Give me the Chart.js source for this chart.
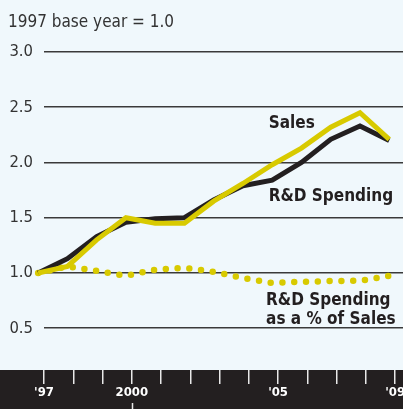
<!DOCTYPE html>
<html>
<head>
<meta charset="utf-8">
<script src="https://cdn.jsdelivr.net/npm/chart.js@4.4.1/dist/chart.umd.min.js"></script>
<style>
  html, body { margin: 0; padding: 0; background: #f0f8fc; }
  canvas { display: block; }
</style>
</head>
<body>
<canvas id="chart" width="403" height="409"></canvas>
<script>
var years = [1997, 1998, 1999, 2000, 2001, 2002, 2003, 2004, 2005, 2006, 2007, 2008, 2009];
var salesValues = [1.00, 1.06, 1.30, 1.50, 1.45, 1.45, 1.65, 1.81, 1.98, 2.13, 2.32, 2.45, 2.21];
var rdValues = [1.00, 1.13, 1.33, 1.46, 1.49, 1.50, 1.66, 1.79, 1.84, 2.00, 2.21, 2.33, 2.20];
var rdShareValues = [1.00, 1.06, 1.02, 0.975, 1.03, 1.047, 1.01, 0.955, 0.91, 0.92, 0.927, 0.93, 0.975];
var yTickValues = [0.5, 1.0, 1.5, 2.0, 2.5, 3.0];
var xTickLabels = ["'97", '', '', '2000', '', '', '', '', "'05", '', '', '', "'09"];
var title = '1997 base year = 1.0';

// series names written on the plot, anchored in data units
var seriesLabels = [
  { lines: ['Sales'], x: 2004.88, y: 2.31 },
  { lines: ['R&D Spending'], x: 2004.88, y: 1.65 },
  { lines: ['R&D Spending', 'as a % of Sales'], x: 2004.79, y: 0.71 }
];

var YELLOW = '#d8ca00';
var INK = '#231f20';
var FONT = '"DejaVu Sans Condensed", "DejaVu Sans", sans-serif';
var tickShift = 0.2;

function points(values) {
  var out = [];
  for (var i = 0; i < years.length; i++) {
    out.push({ x: years[i], y: values[i] });
  }
  return out;
}

var decor = {
  id: 'decor',
  beforeDraw: function(chart) {
    var ctx = chart.ctx;
    var area = chart.chartArea;
    ctx.save();
    ctx.fillStyle = '#f0f8fc';
    ctx.fillRect(0, 0, chart.width, chart.height);
    ctx.fillStyle = INK;
    ctx.fillRect(0, area.bottom, chart.width, chart.height - area.bottom);
    ctx.fillStyle = '#333';
    ctx.font = '17px ' + FONT;
    ctx.textBaseline = 'alphabetic';
    ctx.fillText(title, 8, 27);
    ctx.restore();
  },
  afterDraw: function(chart) {
    var ctx = chart.ctx;
    var xs = chart.scales.x;
    var ys = chart.scales.y;
    ctx.save();
    // small mark under the 2000 label
    var x2000 = Math.round(xs.getPixelForValue(2000 + tickShift)) + 0.5;
    ctx.strokeStyle = '#e8e8e8';
    ctx.lineWidth = 1.5;
    ctx.beginPath();
    ctx.moveTo(x2000, chart.height - 6);
    ctx.lineTo(x2000, chart.height);
    ctx.stroke();

    ctx.fillStyle = INK;
    ctx.font = 'bold 17px ' + FONT;
    ctx.textAlign = 'left';
    ctx.textBaseline = 'alphabetic';
    seriesLabels.forEach(function(lab) {
      var px = xs.getPixelForValue(lab.x);
      var py = ys.getPixelForValue(lab.y);
      for (var i = 0; i < lab.lines.length; i++) {
        ctx.fillText(lab.lines[i], px, py + i * 19);
      }
    });
    ctx.restore();
  }
};

var ctx = document.getElementById('chart');
var chart = new Chart(ctx, {
  type: 'line',
  data: {
    datasets: [
      {
        label: 'Sales',
        data: points(salesValues),
        borderColor: YELLOW,
        borderWidth: 5,
        pointRadius: 0,
        order: 0
      },
      {
        label: 'R&D Spending',
        data: points(rdValues),
        borderColor: INK,
        borderWidth: 5,
        pointRadius: 0,
        order: 1
      },
      {
        label: 'R&D Spending as a % of Sales',
        data: points(rdShareValues),
        borderColor: YELLOW,
        borderWidth: 6.5,
        borderDash: [0, 11.8],
        borderCapStyle: 'round',
        pointRadius: 0,
        order: 2
      }
    ]
  },
  options: {
    responsive: false,
    animation: false,
    devicePixelRatio: 1,
    clip: false,
    layout: { padding: { top: 52, left: 0, right: 0, bottom: 0 } },
    plugins: {
      legend: { display: false },
      tooltip: { enabled: false },
      title: { display: false }
    },
    scales: {
      x: {
        type: 'linear',
        min: 1997 + tickShift,
        max: 2009.47,
        afterBuildTicks: function(scale) {
          scale.ticks = years.map(function(y) { return { value: y + tickShift }; });
        },
        afterFit: function(scale) {
          scale.height = 39;
          scale.paddingLeft = 0;
          scale.paddingRight = 0;
        },
        grid: { drawOnChartArea: false, drawTicks: true, tickLength: 14, color: '#e8e8e8', lineWidth: 1.5 },
        border: { display: false },
        ticks: {
          autoSkip: false,
          maxRotation: 0,
          padding: 1,
          color: '#ffffff',
          font: { family: FONT, size: 13, weight: 'bold' },
          callback: function(v, i) { return xTickLabels[i]; }
        }
      },
      y: {
        min: 0.122,
        max: 3.0,
        afterBuildTicks: function(scale) {
          scale.ticks = yTickValues.map(function(v) { return { value: v }; });
        },
        afterFit: function(scale) {
          scale.width = 44;
        },
        grid: { color: '#3a3a3a', lineWidth: 1.5, drawTicks: false },
        border: { display: false },
        ticks: {
          padding: 11,
          color: '#333',
          font: { family: FONT, size: 16.5 },
          callback: function(v) { return v.toFixed(1); }
        }
      }
    }
  },
  plugins: [decor]
});
</script>
</body>
</html>
